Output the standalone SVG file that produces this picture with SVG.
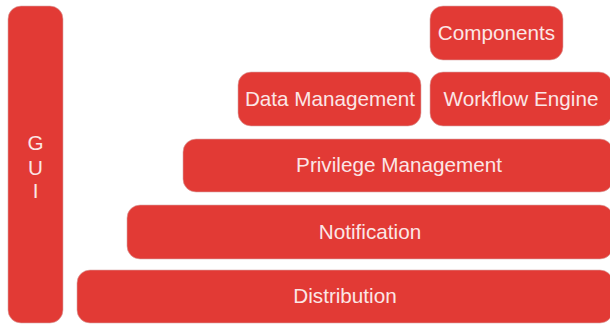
<svg xmlns="http://www.w3.org/2000/svg" width="610" height="325" viewBox="0 0 610 325">
<style>
.box{fill:#e23a35;stroke:#d9a9a7;stroke-width:0.6;}
.lbl{fill:#fbe6e6;font-family:"Liberation Sans",Arial,sans-serif;font-size:20.7px;text-anchor:middle;}
</style>
<rect width="610" height="325" fill="#ffffff"/>
<g id="gui"><rect class="box" x="8" y="6" width="55" height="317" rx="13"/>
<text class="lbl" x="35.5" y="150">G</text><text class="lbl" x="35.5" y="175">U</text><text class="lbl" x="35.5" y="198">I</text></g>
<g id="components"><rect class="box" x="430" y="6" width="133" height="54" rx="13"/><text class="lbl" x="496.5" y="40">Components</text></g>
<g id="data-management"><rect class="box" x="238" y="72" width="183" height="54" rx="13"/><text class="lbl" x="330" y="106">Data Management</text></g>
<g id="workflow-engine"><rect class="box" x="430" y="72" width="182" height="54" rx="13"/><text class="lbl" x="521" y="106">Workflow Engine</text></g>
<g id="privilege-management"><rect class="box" x="183" y="139" width="430" height="53" rx="13"/><text class="lbl" x="399" y="172">Privilege Management</text></g>
<g id="notification"><rect class="box" x="127" y="205" width="486" height="54" rx="13"/><text class="lbl" x="370" y="239">Notification</text></g>
<g id="distribution"><rect class="box" x="77" y="270" width="536" height="53" rx="13"/><text class="lbl" x="345" y="303">Distribution</text></g>
<g id="connectors"></g>
</svg>
